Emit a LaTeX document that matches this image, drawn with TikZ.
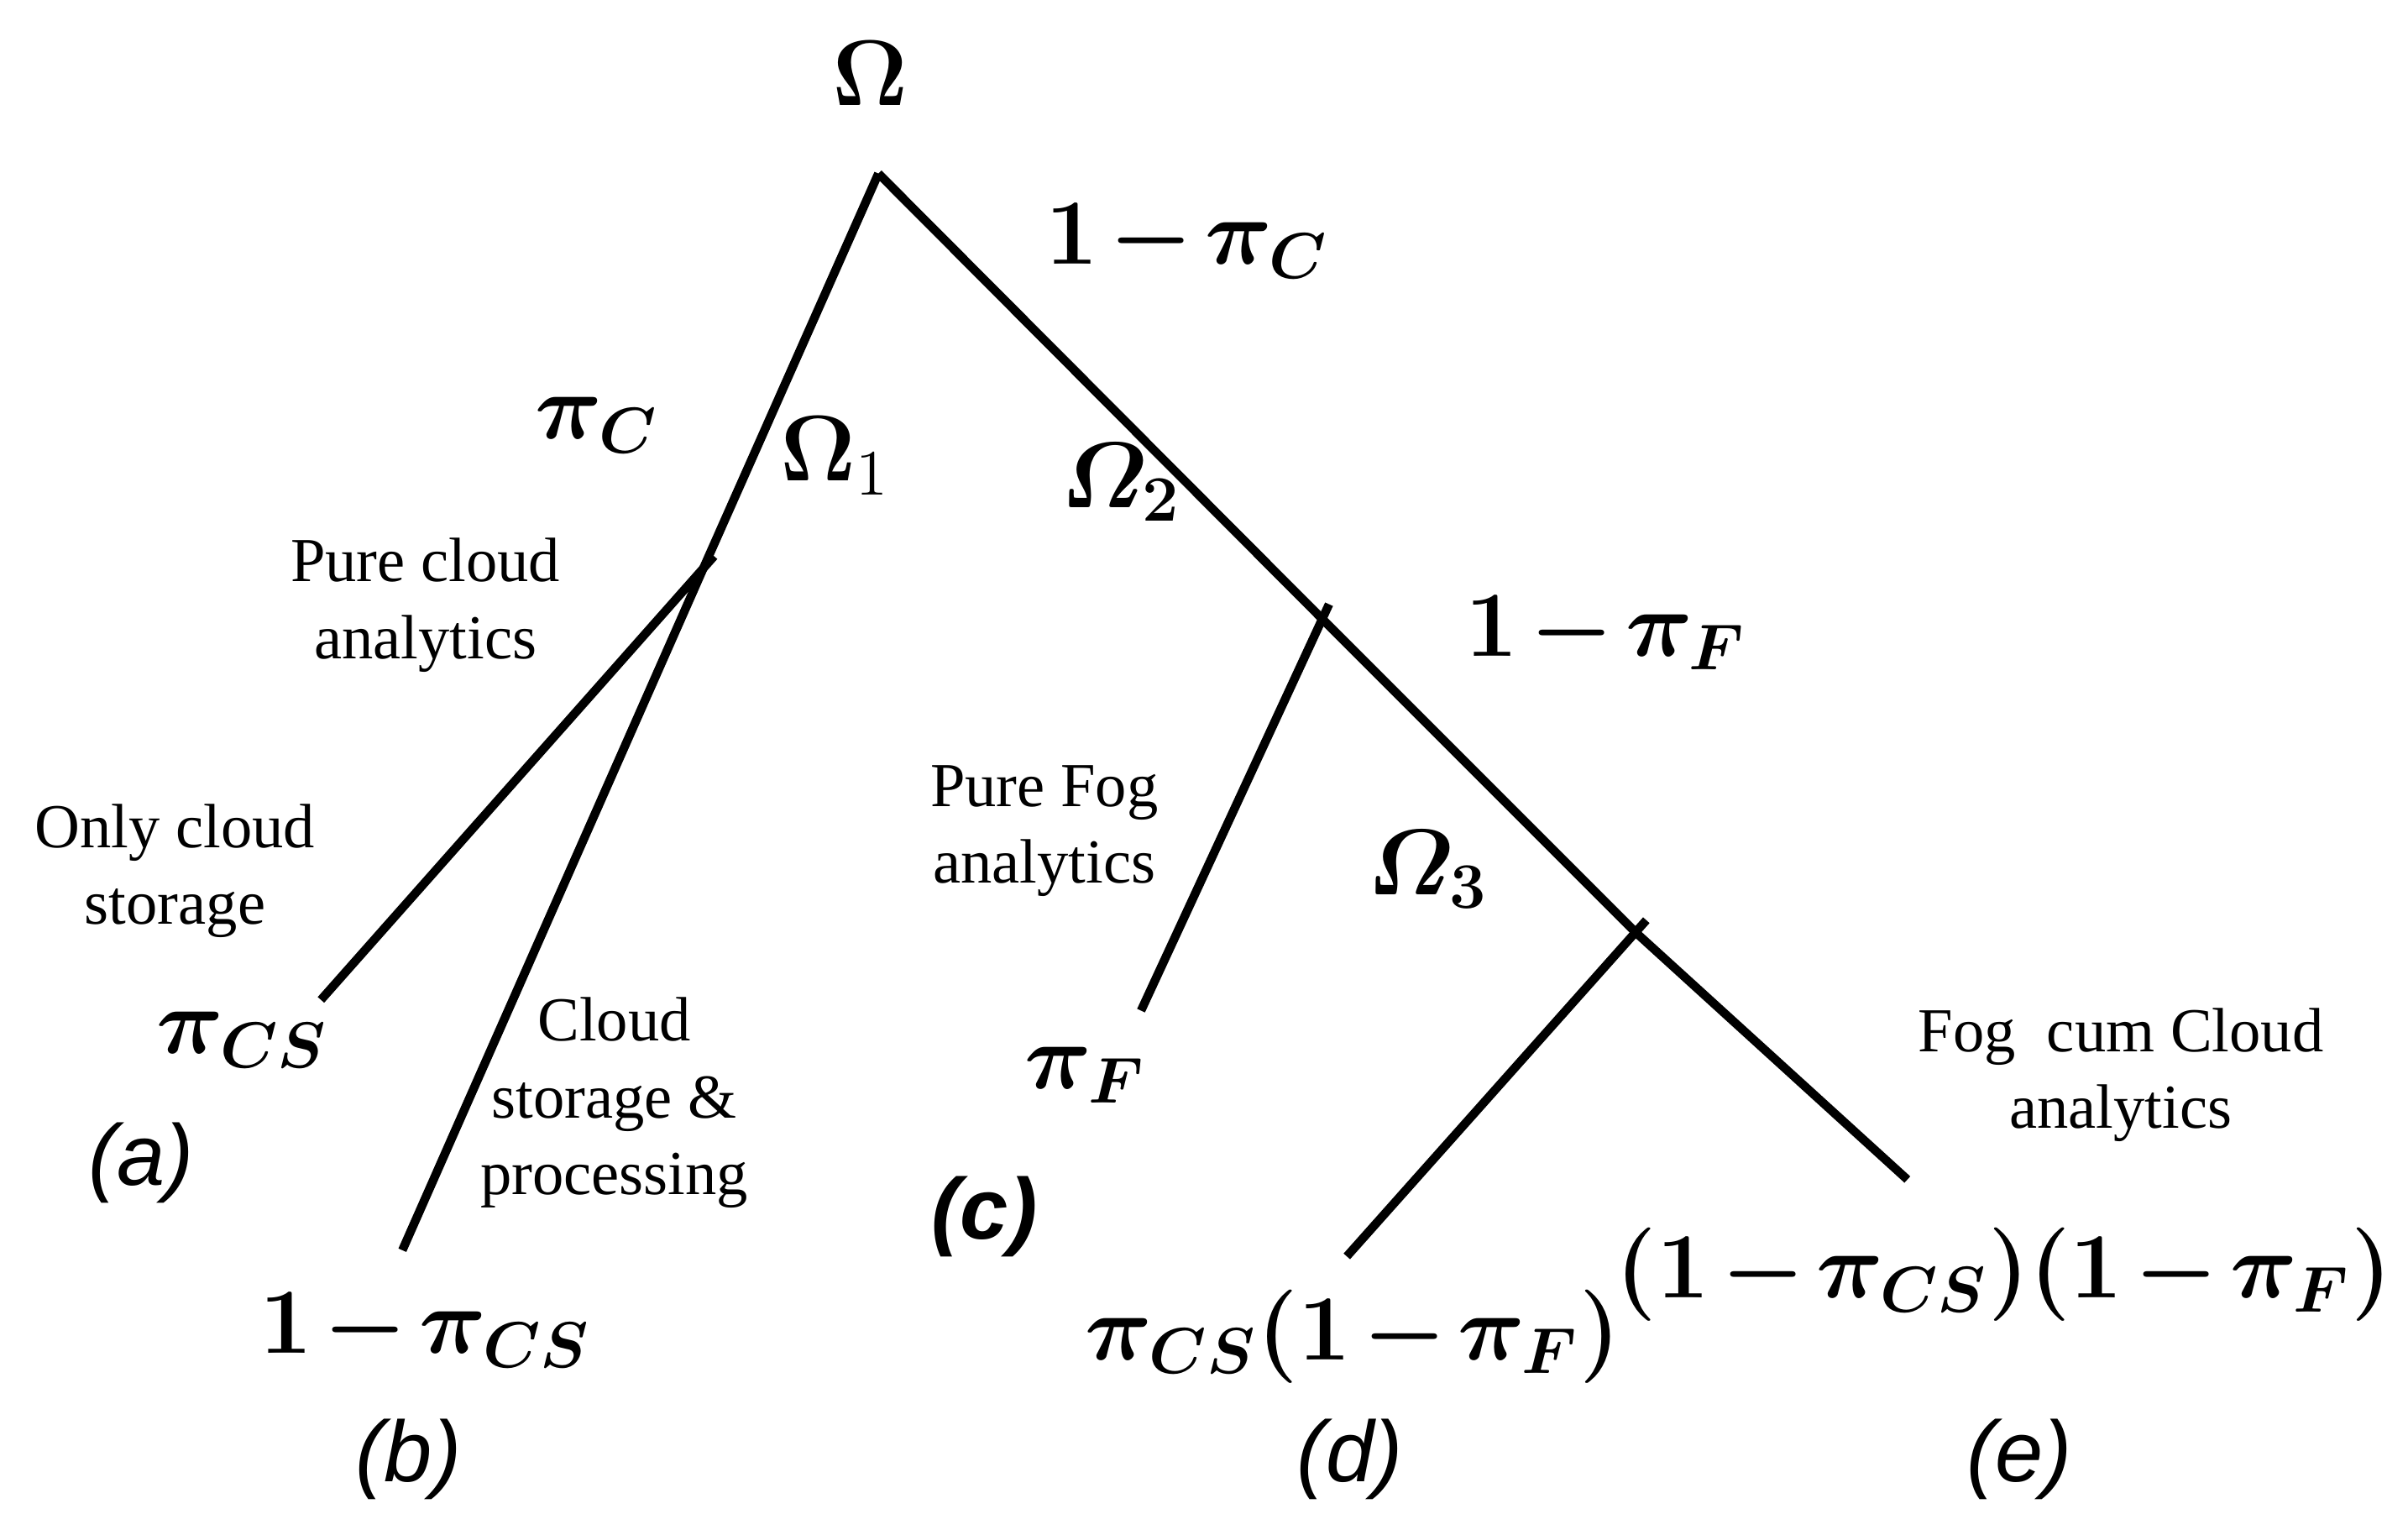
\documentclass[tikz,border=0pt]{standalone}
\usepackage{amsmath}
\usepackage{amssymb}
\usepackage{bm}
\usepackage[no-math]{fontspec}
\setmainfont{Liberation Serif}
\newfontfamily\arialfont{Liberation Sans}
\usetikzlibrary{positioning}
\usetikzlibrary{calc}
\newcommand{\probfont}{\fontsize{16.5}{20}\selectfont\boldmath\medmuskip=2mu\relax}

\begin{document}
\begin{tikzpicture}[x=0.1mm,y=-0.1mm,
        branch/.style={line width=1.6pt},
        prob/.style={inner sep=0pt, font=\probfont},
        state/.style={inner sep=0pt, font=\fontsize{16.5}{20}\selectfont},
        note/.style={inner sep=0pt, align=center, font=\fontsize{11.6}{14.2}\selectfont},
        case/.style={inner sep=0pt, font=\fontsize{16}{19}\selectfont\arialfont\itshape}]

    \useasboundingbox (0,0) rectangle (1568,999);

    % branching points and leaves
    \coordinate (root) at (572,113);
    \coordinate (o1) at (458,370);
    \coordinate (o2) at (861,403);
    \coordinate (o3) at (1065,607);
    \coordinate (aend) at (209,651);
    \coordinate (bend) at (262,814);
    \coordinate (cend) at (743,658);
    \coordinate (dend) at (877,818);
    \coordinate (eend) at (1242,768);

    \draw[branch] (root) -- (o1) -- (bend);
    \draw[branch] (root) -- (o2) -- (o3) -- (eend);
    \draw[branch, shorten <=-3pt] (o1) -- (aend);
    \draw[branch, shorten <=-3pt] (o2) -- (cend);
    \draw[branch, shorten <=-3pt] (o3) -- (dend);

    % states and probabilities
    \node[prob] (om) at (567,48) {$\Omega$};
    \node[prob] (pc) at (389,277) {$\pi_C$};
    \node[prob] (qc) at (773,157) {$1-\pi_C$};
    \node[state] (om1) at (544,297) {$\boldsymbol{\Omega}_1$};
    \node[prob] (om2) at (730,314) {$\varOmega_2$};
    \node[prob] (qf) at (1046,412) {$1-\pi_F$};
    \node[prob] (om3) at (930,566) {$\varOmega_3$};
    \node[prob] (pcs) at (158,677) {$\pi_{CS}$};
    \node[prob] (pf) at (707,700) {$\pi_F$};
    \node[prob] (qcs) at (277,866) {$1-\pi_{CS}$};
    \node[prob] (pd) at (881,870) {$\pi_{CS}(1-\pi_F)$};
    \node[prob] (pe) at (1305,830) {$(1-\pi_{CS})(1-\pi_F)$};

    % descriptions
    \node[note] (pure) at (277,394) {Pure cloud\\analytics};
    \node[note] (only) at (114,567) {Only cloud\\storage};
    \node[note] (proc) at (400,718) {Cloud\\storage \&\\processing};
    \node[note] (fog) at (680,541) {Pure Fog\\analytics};
    \node[note] (cum) at (1381,700) {Fog~ cum Cloud\\analytics};

    % cases
    \node[case] (ca) at (92,757) {(a)};
    \node[case] (cb) at (266,950) {(b)};
    \node[case, font=\fontsize{16}{19}\selectfont\arialfont\bfseries\itshape] (cc) at (641,792) {(c)};
    \node[case] (cd) at (879,950) {(d)};
    \node[case] (ce) at (1315,950) {(e)};
\end{tikzpicture}
\end{document}
